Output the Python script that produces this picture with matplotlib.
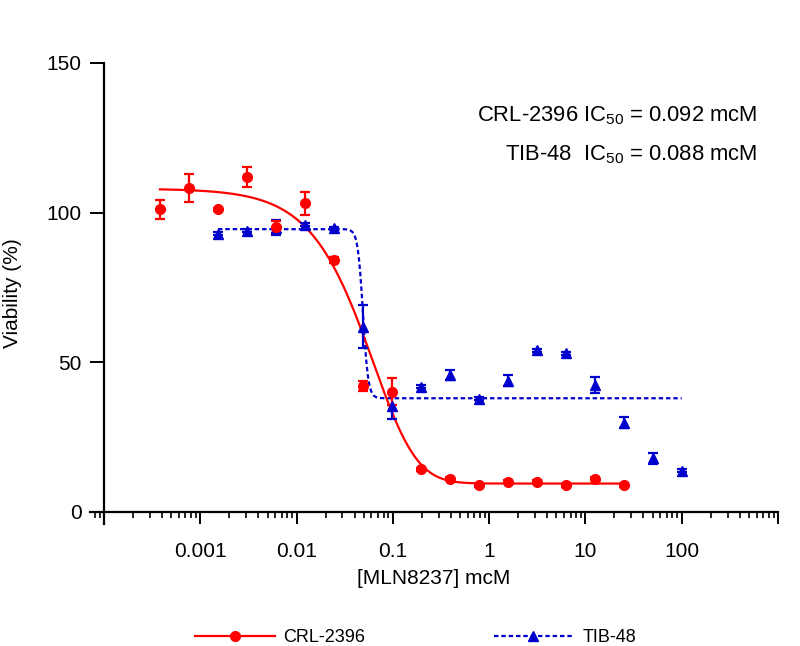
import numpy as np
import matplotlib.pyplot as plt
from matplotlib.lines import Line2D
from matplotlib.ticker import LogLocator, NullFormatter

plt.rcParams['font.family'] = ['Liberation Sans', 'DejaVu Sans']
plt.rcParams['mathtext.default'] = 'regular'

# === DATA ===
# CRL-2396 (two-fold dilutions, mcM)
crl_conc = [0.000381, 0.000763, 0.00153, 0.00305, 0.0061, 0.0122, 0.0244, 0.0488,
            0.0977, 0.195, 0.391, 0.781, 1.56, 3.13, 6.25, 12.5, 25]
crl_via = [101.1, 108.1, 101.1, 112.0, 95.3, 103.1, 84.1, 42.1,
           40.2, 14.3, 11.1, 9.0, 10.1, 10.1, 9.0, 11.1, 9.0]
crl_err = [3.2, 4.7, 0.5, 3.4, 2.0, 3.9, 1.0, 1.7,
           4.6, 0.5, 0.5, 0.5, 0.5, 0.5, 0.5, 0.5, 0.5]

# TIB-48
tib_conc = [0.00153, 0.00305, 0.0061, 0.0122, 0.0244, 0.0488, 0.0977, 0.195,
            0.391, 0.781, 1.56, 3.13, 6.25, 12.5, 25, 50, 100]
tib_via = [92.9, 94.0, 95.0, 95.9, 94.8, 61.9, 35.4, 41.9,
           45.8, 37.8, 43.9, 54.1, 53.0, 42.4, 29.8, 17.9, 13.8]
tib_err = [0.5, 0.5, 2.4, 0.5, 0.5, 7.2, 4.2, 0.5,
           1.8, 0.5, 1.8, 0.5, 0.5, 2.8, 1.8, 1.7, 0.5]

# sigmoidal fit parameters (top, bottom, logC, hill, asymmetry)
crl_fit = (108.0, 9.5, -0.70, 1.2, 4.0)
tib_fit = (94.5, 38.0, -1.31, 16.0, 1.0)

RED = '#FF0000'
BLUE = '#0000CC'


def sigmoid(x, p):
    top, bottom, logc, hill, s = p
    return bottom + (top - bottom) / (1 + 10 ** ((np.log10(x) - logc) * hill)) ** s


fig = plt.figure(figsize=(8, 6.46), dpi=100)
ax = fig.add_axes([0.1125, 0.1889, 0.86, 0.7136])

xmin = 10 ** -4.145
ax.set_xscale('log')
ax.set_xlim(xmin, 1000)
ax.set_ylim(-4, 150)

# fitted curves
xc = np.logspace(np.log10(tib_conc[0]), np.log10(tib_conc[-1]), 800)
ax.plot(xc, sigmoid(xc, tib_fit), color=BLUE, lw=1.6, ls=(0, (2.0, 1.3)))
xr = np.logspace(np.log10(crl_conc[0]), np.log10(crl_conc[-1]), 800)
ax.plot(xr, sigmoid(xr, crl_fit), color=RED, lw=1.6)

# points
ax.errorbar(tib_conc, tib_via, yerr=tib_err, fmt='^', color=BLUE, ms=7.5,
            capsize=3.5, elinewidth=1.6, capthick=1.6)
ax.errorbar(crl_conc, crl_via, yerr=crl_err, fmt='o', color=RED, ms=7,
            capsize=3.5, elinewidth=1.6, capthick=1.6)

# axes styling
for s in ['top', 'right']:
    ax.spines[s].set_visible(False)
ax.spines['left'].set_position(('data', 1e-4))
ax.spines['left'].set_bounds(-4, 150)
ax.spines['bottom'].set_position(('data', 0))
ax.spines['bottom'].set_bounds(xmin, 1000)
for s in ['left', 'bottom']:
    ax.spines[s].set_linewidth(1.6)

ax.set_yticks([0, 50, 100, 150])
ax.set_xticks([1e-4, 1e-3, 1e-2, 1e-1, 1, 10, 100, 1000])
ax.set_xticklabels(['', '0.001', '0.01', '0.1', '1', '10', '100', ''])
ax.xaxis.set_minor_locator(LogLocator(base=10, subs=np.arange(2, 10)))
ax.xaxis.set_minor_formatter(NullFormatter())
ax.tick_params(axis='x', which='major', length=8.6, width=1.4, pad=13, labelsize=15)
ax.tick_params(axis='x', which='minor', length=4.3, width=1.2)
ax.tick_params(axis='y', which='major', length=10, width=1.4, pad=6, labelsize=15)

ax.set_xlabel('[MLN8237] mcM', fontsize=15, labelpad=6)
ax.set_ylabel('Viability (%)', fontsize=15)
ax.yaxis.set_label_coords(-0.099, 0.5)

ax.text(0.9695, 0.8727, 'CRL-2396 IC$_{50}$ = 0.092 mcM', transform=ax.transAxes,
        ha='right', va='baseline', fontsize=15.8)
ax.text(0.9695, 0.7896, 'TIB-48  IC$_{50}$ = 0.088 mcM', transform=ax.transAxes,
        ha='right', va='baseline', fontsize=15.8)

handles = [Line2D([], [], color=RED, lw=1.6, marker='o', ms=7),
           Line2D([], [], color=BLUE, lw=1.6, ls=(0, (2.0, 1.3)), marker='^', ms=7.5)]
fig.legend(handles, ['CRL-2396', 'TIB-48'], loc='center', ncol=2, frameon=False,
           bbox_to_anchor=(415.5 / 800, 1 - 638 / 646), fontsize=13,
           handlelength=4.4, handletextpad=0.5, columnspacing=7.1)

fig.savefig('out.png', dpi=100)
